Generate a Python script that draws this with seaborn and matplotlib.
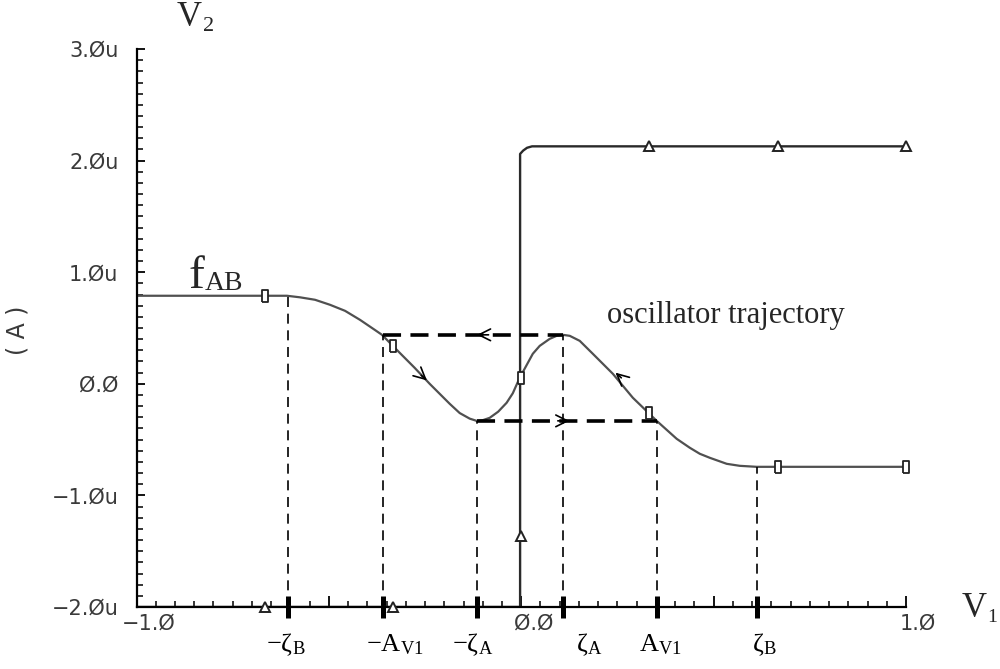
import numpy as np
import pandas as pd
import seaborn as sns
import matplotlib
matplotlib.use("Agg")
import matplotlib.pyplot as plt
from matplotlib import transforms
from matplotlib.ticker import MultipleLocator

# ---------------- data ----------------
# f_AB characteristic (V1 in V, current in uA)
v1_curve = [-1.0, -0.609, -0.575, -0.536, -0.497, -0.458, -0.419, -0.381, -0.362,
            -0.316, -0.277, -0.238, -0.186, -0.160, -0.134, -0.116, -0.100, -0.082,
            -0.060, -0.038, -0.022, -0.004, 0.030, 0.048, 0.074, 0.092, 0.108, 0.126,
            0.152, 0.186, 0.238, 0.290, 0.352, 0.404, 0.438, 0.464, 0.490, 0.534,
            0.568, 0.612, 1.0]
i_curve = [0.789, 0.789, 0.775, 0.753, 0.708, 0.654, 0.573, 0.484, 0.439,
           0.278, 0.143, 0.0, -0.179, -0.262, -0.312, -0.332, -0.326, -0.305,
           -0.250, -0.170, -0.085, 0.054, 0.269, 0.340, 0.403, 0.430, 0.439, 0.430,
           0.385, 0.269, 0.090, -0.125, -0.332, -0.493, -0.573, -0.627, -0.663, -0.717,
           -0.735, -0.744, -0.744]

# step trace
v1_step = [-1.0, -0.003, -0.003, 0.005, 0.015, 0.028, 1.0]
i_step = [-2.0, -2.0, 2.06, 2.09, 2.115, 2.128, 2.128]

# trace markers
mark_x = [-0.667, -0.333, 0.0, 0.333, 0.667, 1.0]
mark_curve_y = [0.789, 0.34, 0.054, -0.26, -0.744, -0.744]
mark_step_y = [-2.0, -2.0, -1.36, 2.128, 2.128, 2.128]

# characteristic points
zeta_x = [-0.606, -0.360, -0.116, 0.108, 0.352, 0.612]
zeta_y = [0.789, 0.439, -0.332, 0.439, -0.332, -0.744]
zeta_labels = [r"$\mathrm{-\zeta_{B}}$", r"$\mathrm{-A_{V1}}$", r"$\mathrm{-\zeta_{A}}$",
               r"$\mathrm{\zeta_{A}}$", r"$\mathrm{A_{V1}}$", r"$\mathrm{\zeta_{B}}$"]
zeta_label_dx = [-2, 12, -4, 26, 4, 8]   # px offsets of labels

# oscillator trajectory (upper: -A_V1 -> zeta_A ; lower: -zeta_A -> A_V1)
traj_upper_x = [-0.360, 0.108]
traj_upper_y = [0.439, 0.439]
traj_lower_x = [-0.116, 0.352]
traj_lower_y = [-0.332, -0.332]

# arrow heads (tip x, tip y, dx, dy direction)
arrows = [(-0.115, 0.439, -1.0, 0.0),
          (0.125, -0.332, 1.0, 0.0),
          (-0.245, 0.03, 0.5, -0.62),
          (0.245, 0.10, -0.5, 0.62)]

yticks = [-2, -1, 0, 1, 2, 3]
ytick_labels = ["\u22122.\u00d8u", "\u22121.\u00d8u", "\u00d8.\u00d8", "1.\u00d8u", "2.\u00d8u", "3.\u00d8u"]
xticks = [-1.0, -0.5, 0.0, 0.5, 1.0]
xtick_labels = ["\u22121.\u00d8", "", "\u00d8.\u00d8", "", "1.\u00d8"]

# ---------------- style ----------------
sns.set_theme(style="white")
plt.rcParams["font.family"] = ["DejaVu Sans"]
plt.rcParams["mathtext.fontset"] = "custom"
plt.rcParams["mathtext.rm"] = "Liberation Serif"
plt.rcParams["mathtext.it"] = "Liberation Serif"
plt.rcParams["mathtext.bf"] = "Liberation Serif:bold"

fig = plt.figure(figsize=(10, 6.69), dpi=100)
fig.patch.set_facecolor("white")
ax = fig.add_axes([0.1365, 0.0927, 0.7695, 0.834])
ax.set_facecolor("white")

df_curve = pd.DataFrame({"V1": v1_curve, "I": i_curve})
df_step = pd.DataFrame({"V1": v1_step, "I": i_step})

sns.lineplot(data=df_curve, x="V1", y="I", sort=False, estimator=None, ax=ax,
             color="#505050", lw=1.6)
sns.lineplot(data=df_step, x="V1", y="I", sort=False, estimator=None, ax=ax,
             color="#2a2a2a", lw=1.7)

rect = [(-0.5, -1), (0.5, -1), (0.5, 1), (-0.5, 1), (-0.5, -1)]
ax.plot(mark_x, mark_curve_y, ls="none", marker=rect, ms=9, mfc="white",
        mec="#222222", mew=1.3, clip_on=False, zorder=5)
ax.plot(mark_x, mark_step_y, ls="none", marker="^", ms=7, mfc="white",
        mec="#222222", mew=1.4, clip_on=False, zorder=5)

# dashed guides to the axis
ax.vlines(zeta_x, -2.0, zeta_y, colors="black", lw=1.2, linestyles=(0, (6, 4)), zorder=3)

# thick trajectory dashes
ax.plot(traj_upper_x, traj_upper_y, color="black", lw=2.6, dashes=(5, 2.6), zorder=4)
ax.plot(traj_lower_x, traj_lower_y, color="black", lw=2.6, dashes=(5, 2.6), zorder=4)

for (tx, ty, dx, dy) in arrows:
    s = 0.03
    ax.annotate("", xy=(tx, ty), xytext=(tx - dx * s, ty - dy * s * 2.5),
                arrowprops=dict(arrowstyle="->,head_length=0.7,head_width=0.35",
                                lw=1.2, color="black", shrinkA=0, shrinkB=0))

ax.set_xlim(-1.0, 1.0)
ax.set_ylim(-2.0, 3.0)
ax.set_xlabel("")
ax.set_ylabel("")

for side in ["top", "right"]:
    ax.spines[side].set_visible(False)
for side in ["left", "bottom"]:
    ax.spines[side].set_color("black")
    ax.spines[side].set_linewidth(1.6)

ax.set_yticks(yticks)
ax.set_yticklabels(ytick_labels)
ax.yaxis.set_minor_locator(MultipleLocator(0.1))
ax.set_xticks(xticks)
ax.set_xticklabels(xtick_labels)
ax.xaxis.set_minor_locator(MultipleLocator(0.05))
ax.tick_params(axis="y", which="major", direction="in", length=6, width=1.3,
               pad=13, labelsize=15, labelcolor="#3a3a3a", color="black", left=True)
ax.tick_params(axis="y", which="minor", direction="in", length=4, width=1.1, color="black", left=True)
ax.tick_params(axis="x", which="major", direction="in", length=8, width=1.3,
               pad=5, labelsize=15, labelcolor="#3a3a3a", color="black", bottom=True)
ax.tick_params(axis="x", which="minor", direction="in", length=4, width=1.1, color="black", bottom=True)
off = transforms.ScaledTranslation(12 / 100, 0, fig.dpi_scale_trans)
for lbl in ax.get_xticklabels():
    lbl.set_transform(lbl.get_transform() + off)

# thick characteristic ticks
sec = ax.secondary_xaxis("bottom")
sec.set_xticks(zeta_x)
sec.set_xticklabels([""] * len(zeta_x))
sec.tick_params(direction="inout", length=16, width=3.6, color="black")
sec.spines["bottom"].set_visible(False)

trans = transforms.blended_transform_factory(ax.transData, ax.transAxes)
for x, lab, dx in zip(zeta_x, zeta_labels, zeta_label_dx):
    ax.annotate(lab, xy=(x, 0), xycoords=trans, xytext=(dx * 0.72, -32),
                textcoords="offset points", ha="center", va="baseline",
                fontsize=19, color="black", annotation_clip=False)

serif = "Liberation Serif"
def px(x, y):
    return x / 1000, 1 - y / 669

fig.text(*px(177, 26), "V", fontsize=25, family=serif, va="baseline", ha="left")
fig.text(*px(203, 31), "2", fontsize=16, family=serif, va="baseline", ha="left")
fig.text(*px(962, 617), "V", fontsize=25, family=serif, va="baseline", ha="left")
fig.text(*px(987, 622), "1", fontsize=14, family=serif, va="baseline", ha="left")
fig.text(*px(188, 288), "f", fontsize=34, family=serif, va="baseline", ha="left")
fig.text(*px(205, 290), "AB", fontsize=20, family=serif, va="baseline", ha="left")
fig.text(*px(607, 323), "oscillator trajectory", fontsize=22, family=serif,
         va="baseline", ha="left")
fig.text(*px(18, 330), "( A )", fontsize=17, rotation=90, ha="center", va="center",
         color="#3a3a3a")

fig.savefig("out.png", dpi=100, facecolor="white")
